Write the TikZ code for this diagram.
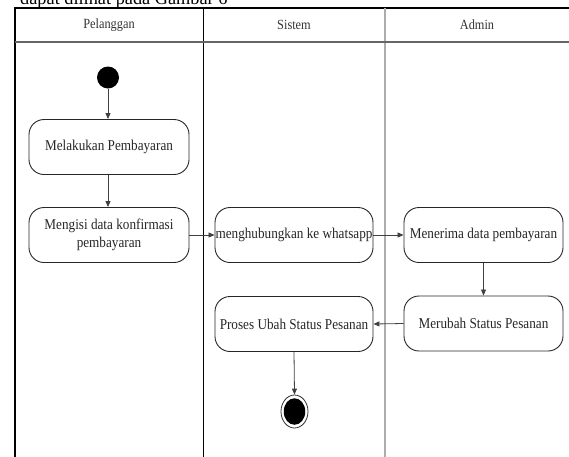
\documentclass[tikz,border=0pt]{standalone}
\usepackage{fontspec}
\setmainfont{Liberation Serif}
\newfontfamily\lblfont[FakeStretch=0.88]{Liberation Serif}
\usetikzlibrary{arrows.meta,shapes.geometric}

\begin{document}
\begin{tikzpicture}[x=1pt,y=-1pt,
  action/.style={draw=black!85, line width=0.9pt, rounded corners=15pt,
    minimum width=159pt, minimum height=55pt, align=center, inner sep=0pt,
    font=\lblfont\fontsize{15}{18}\selectfont, text=black!85},
  flow/.style={draw=black!75, line width=0.8pt,
    -{Triangle[length=6pt,width=5pt]}},
  lanehead/.style={font=\lblfont\fontsize{14}{16}\selectfont, text=black!80},
  lanerule/.style={line width=1pt, draw=black},
]
\useasboundingbox (0,0) rectangle (569,456);
\clip (0,0) rectangle (569,456);

% running text above the table (its upper part is cut off)
\node[anchor=base west, inner sep=0pt, font=\fontsize{18.3}{20}\selectfont]
  (caption) at (20,4.5) {dapat dilihat pada Gambar 6};

% swimlane frame
\draw[lanerule, line width=1.2pt] (15,462) -- (15,8) -- (575,8);
\draw[lanerule] (203,8) -- (203,462);
\draw[gray!65, line width=1.8pt] (385,8) -- (385,462);
\draw[black!60, line width=2pt] (15,41.5) -- (575,41.5);

% lane titles
\node[lanehead] (hcust) at (109,25) {Pelanggan};
\node[lanehead] (hsys)  at (294,25) {Sistem};
\node[lanehead] (hadm)  at (477,25) {Admin};

% start / end
\node[circle, fill=black, minimum size=22pt, inner sep=0pt] (start) at (108,77.5) {};
\node[ellipse, draw=black!80, line width=0.8pt, fill=white,
      minimum width=27pt, minimum height=33pt, inner sep=0pt] (finish) at (294.5,411.5) {};
\node[ellipse, fill=black, minimum width=21.5pt, minimum height=26.5pt, inner sep=0pt]
  (finishdot) at (294.5,411.5) {};

% actions
\node[action, minimum width=160pt] (bayar)   at (109,147)   {Melakukan Pembayaran};
\node[action, minimum width=160pt] (isi)     at (109,235)   {Mengisi data konfirmasi\\pembayaran};
\node[action, minimum width=158pt] (hubung)  at (294,235)   {menghubungkan ke whatsapp};
\node[action] (terima)  at (483.5,235) {Menerima data pembayaran};
\node[action] (ubah)    at (483.5,323.5) {Merubah Status Pesanan};
\node[action, minimum width=158pt] (proses)  at (294,324)   {Proses Ubah Status Pesanan};

% control flow
\draw[flow] (start.south) -- (start.south |- bayar.north);
\draw[flow] (bayar.south -| start.south) -- (isi.north -| start.south);
\draw[flow] (isi.east) -- (hubung.west);
\draw[flow] (hubung.east) -- (terima.west);
\draw[flow] (terima.south) -- (ubah.north);
\draw[flow] (ubah.west) -- (proses.east);
\draw[flow] (proses.south) -- (finish.north);
\end{tikzpicture}
\end{document}
